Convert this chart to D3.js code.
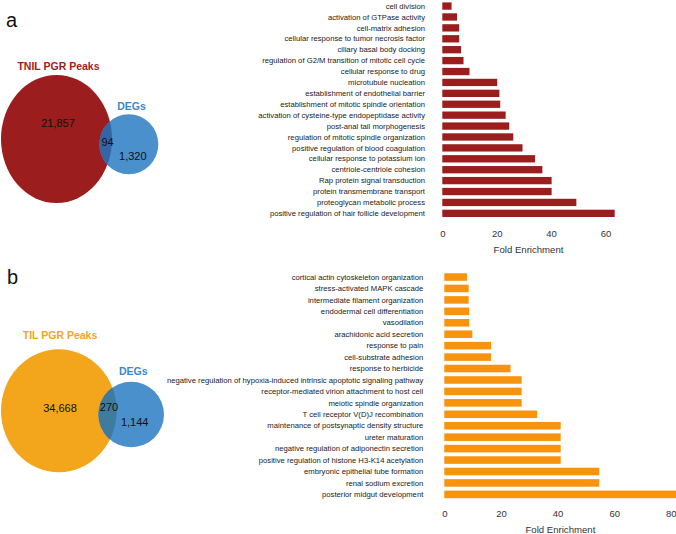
<!DOCTYPE html>
<html>
<head>
<meta charset="utf-8">
<script src="https://cdn.jsdelivr.net/npm/d3@7"></script>
<style>
  html, body { margin: 0; padding: 0; background: #fff; }
  svg { display: block; font-family: "Liberation Sans", Arial, sans-serif; }
</style>
</head>
<body>
<svg id="chart" width="676" height="534"></svg>
<script>
// ---- Data ----
const termsA = [
  "cell division",
  "activation of GTPase activity",
  "cell-matrix adhesion",
  "cellular response to tumor necrosis factor",
  "ciliary basal body docking",
  "regulation of G2/M transition of mitotic cell cycle",
  "cellular response to drug",
  "microtubule nucleation",
  "establishment of endothelial barrier",
  "establishment of mitotic spindle orientation",
  "activation of cysteine-type endopeptidase activity",
  "post-anal tail morphogenesis",
  "regulation of mitotic spindle organization",
  "positive regulation of blood coagulation",
  "cellular response to potassium ion",
  "centriole-centriole cohesion",
  "Rap protein signal transduction",
  "protein transmembrane transport",
  "proteoglycan metabolic process",
  "positive regulation of hair follicle development"
];
const foldA = [3.4, 5.4, 6.2, 6.2, 6.9, 7.8, 10.0, 20.2, 21.0, 21.3, 23.3, 24.6, 26.1, 29.5, 34.1, 36.8, 40.2, 40.2, 49.3, 63.4];
const ticksA = [0, 20, 40, 60];

const termsB = [
  "cortical actin cytoskeleton organization",
  "stress-activated MAPK cascade",
  "intermediate filament organization",
  "endodermal cell differentiation",
  "vasodilation",
  "arachidonic acid secretion",
  "response to pain",
  "cell-substrate adhesion",
  "response to herbicide",
  "negative regulation of hypoxia-induced intrinsic apoptotic signaling pathway",
  "receptor-mediated virion attachment to host cell",
  "meiotic spindle organization",
  "T cell receptor V(D)J recombination",
  "maintenance of postsynaptic density structure",
  "ureter maturation",
  "negative regulation of adiponectin secretion",
  "positive regulation of histone H3-K14 acetylation",
  "embryonic epithelial tube formation",
  "renal sodium excretion",
  "posterior midgut development"
];
const foldB = [8.0, 8.6, 8.6, 8.8, 8.8, 9.9, 16.5, 16.5, 23.4, 27.3, 27.3, 27.3, 32.8, 41.1, 41.1, 41.1, 41.1, 54.7, 54.7, 82.0];
const ticksB = [0, 20, 40, 60, 80];

const vennSetsA = ["TNIL PGR Peaks", "DEGs"];
const vennCountsA = ["21,857", "94", "1,320"];
const vennSetsB = ["TIL PGR Peaks", "DEGs"];
const vennCountsB = ["34,668", "270", "1,144"];

const panelLetters = ["a", "b"];
const axisTitle = "Fold Enrichment";

// ---- Drawing ----
const svg = d3.select("#chart");

function barPanel(cfg) {
  const g = svg.append("g");
  const x = d3.scaleLinear().domain([0, d3.max(cfg.values)]).range([cfg.x0, cfg.x1]);
  const y = d3.scaleBand().domain(cfg.terms).range([cfg.y0, cfg.y1])
    .paddingInner(cfg.pad).paddingOuter(cfg.pad / 2);

  g.selectAll("rect.bar").data(cfg.terms).join("rect")
    .attr("class", "bar")
    .attr("x", x(0))
    .attr("y", d => y(d))
    .attr("width", (d, i) => x(cfg.values[i]) - x(0))
    .attr("height", y.bandwidth())
    .attr("fill", cfg.color);

  g.selectAll("text.term").data(cfg.terms).join("text")
    .attr("class", "term")
    .attr("x", cfg.labelX)
    .attr("y", d => y(d) + y.bandwidth() / 2)
    .attr("dy", "0.35em")
    .attr("text-anchor", "end")
    .attr("font-size", "7.7px")
    .attr("fill", "#222")
    .text(d => d);

  const axis = d3.axisBottom(x).tickValues(cfg.ticks).tickSize(0).tickPadding(0);
  const ag = g.append("g").attr("transform", `translate(0,${cfg.tickY})`).call(axis);
  ag.select(".domain").remove();
  ag.selectAll("text").attr("font-size", "9.5px").attr("fill", "#333")
    .attr("font-family", "Liberation Sans, Arial, sans-serif").attr("dy", "0");

  g.append("text")
    .attr("x", (cfg.x0 + cfg.x1) / 2)
    .attr("y", cfg.titleY)
    .attr("text-anchor", "middle")
    .attr("font-size", "9.6px")
    .attr("fill", "#333")
    .text(axisTitle);
}

barPanel({ terms: termsA, values: foldA, ticks: ticksA, color: "#9b1d1d",
  x0: 442.3, x1: 614.7, y0: 0.6, y1: 218.8, pad: 0.33, labelX: 425,
  tickY: 236.8, titleY: 252.6 });
barPanel({ terms: termsB, values: foldB, ticks: ticksB, color: "#f7930c",
  x0: 444.3, x1: 676.5, y0: 271.3, y1: 500.1, pad: 0.34, labelX: 423.3,
  tickY: 516.8, titleY: 533.2 });

function venn(cfg) {
  const g = svg.append("g");
  const id = "clip" + cfg.key;
  g.append("clipPath").attr("id", id)
    .append("ellipse").attr("cx", cfg.big.cx).attr("cy", cfg.big.cy)
    .attr("rx", cfg.big.rx).attr("ry", cfg.big.ry);
  g.append("ellipse").attr("cx", cfg.big.cx).attr("cy", cfg.big.cy)
    .attr("rx", cfg.big.rx).attr("ry", cfg.big.ry).attr("fill", cfg.bigColor);
  g.append("ellipse").attr("cx", cfg.small.cx).attr("cy", cfg.small.cy)
    .attr("rx", cfg.small.rx).attr("ry", cfg.small.ry).attr("fill", "#4a90cc");
  g.append("ellipse").attr("cx", cfg.small.cx).attr("cy", cfg.small.cy)
    .attr("rx", cfg.small.rx).attr("ry", cfg.small.ry).attr("fill", cfg.overlapColor)
    .attr("clip-path", `url(#${id})`);

  g.append("text").attr("x", cfg.bigLabel[0]).attr("y", cfg.bigLabel[1])
    .attr("text-anchor", "middle").attr("font-weight", "bold").attr("font-size", "10.5px")
    .attr("fill", cfg.bigLabelColor).text(cfg.sets[0]);
  g.append("text").attr("x", cfg.smallLabel[0]).attr("y", cfg.smallLabel[1])
    .attr("text-anchor", "middle").attr("font-weight", "bold").attr("font-size", "10.5px")
    .attr("fill", "#3b87cf").text(cfg.sets[1]);

  cfg.counts.forEach((c, i) => {
    g.append("text").attr("x", cfg.countPos[i][0]).attr("y", cfg.countPos[i][1])
      .attr("dy", "0.35em").attr("text-anchor", "middle").attr("font-size", "11px")
      .attr("fill", "#111").text(c);
  });

  g.append("text").attr("x", cfg.letter[0]).attr("y", cfg.letter[1])
    .attr("font-size", "20px").attr("fill", "#111").text(cfg.letterText);
}

venn({ key: "a", sets: vennSetsA, counts: vennCountsA, letterText: panelLetters[0],
  big: { cx: 56.5, cy: 139, rx: 55.5, ry: 64 }, small: { cx: 128.8, cy: 144.3, rx: 29.5, ry: 30 },
  bigColor: "#9b1d1d", overlapColor: "#3565a6", bigLabelColor: "#a32020",
  bigLabel: [58.5, 70], smallLabel: [131.5, 110],
  countPos: [[58, 123.5], [107.5, 142], [132.8, 156]], letter: [6, 27] });

venn({ key: "b", sets: vennSetsB, counts: vennCountsB, letterText: panelLetters[1],
  big: { cx: 58.8, cy: 410.8, rx: 57.8, ry: 61.5 }, small: { cx: 131.2, cy: 414.5, rx: 32.8, ry: 32.8 },
  bigColor: "#f3a51c", overlapColor: "#3f7a9f", bigLabelColor: "#f3a51c",
  bigLabel: [60, 339], smallLabel: [133.2, 374.5],
  countPos: [[60, 408], [109, 407], [134.7, 422.5]], letter: [7, 283.5] });
</script>
</body>
</html>
